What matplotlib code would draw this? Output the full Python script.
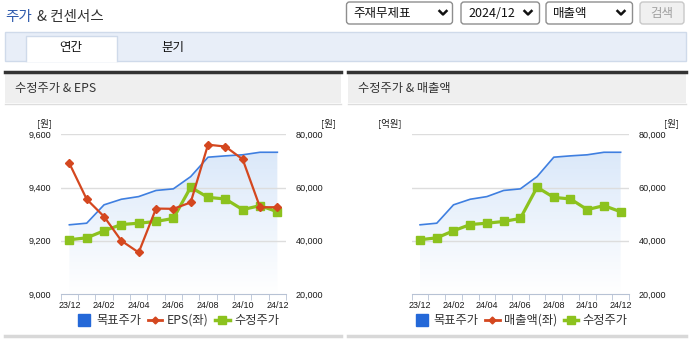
import numpy as np
import matplotlib
matplotlib.use('Agg')
import matplotlib.pyplot as plt
from matplotlib.patches import Rectangle, FancyBboxPatch
from matplotlib.lines import Line2D

plt.rcParams['font.family'] = ['Liberation Sans', 'Noto Sans CJK KR']
KR = ['Noto Sans CJK KR', 'DejaVu Sans']

# 데이터
months = ['23/12', '24/01', '24/02', '24/03', '24/04', '24/05', '24/06',
          '24/07', '24/08', '24/09', '24/10', '24/11', '24/12']
tick_months = ['23/12', '24/02', '24/04', '24/06', '24/08', '24/10', '24/12']
target_price = [46000, 46600, 53500, 55600, 56600, 58900, 59500,
                64100, 71400, 71900, 72300, 73250, 73250]
adj_price = [40400, 41100, 43750, 46100, 46600, 47250, 48400,
             60100, 56300, 55700, 51700, 53200, 50900]
eps = [9491, 9356, 9291, 9200, 9156, 9321, 9320,
       9344, 9561, 9554, 9506, 9326, 9326]
sales = []  # 매출액 데이터 없음

price_ticks = [20000, 40000, 60000, 80000]
eps_ticks = [9000, 9200, 9400, 9600]

W, H = 691, 342
fig = plt.figure(figsize=(W / 100, H / 100), dpi=100)

# 화면 틀 (픽셀 좌표)
bg = fig.add_axes([0, 0, 1, 1])
bg.set_xlim(0, W)
bg.set_ylim(H, 0)
bg.axis('off')

bg.text(5, 17, '주가', color='#2E5AAC', fontsize=10.5, va='center', family=KR)
bg.text(37, 17, '& 컨센서스', color='#333333', fontsize=10.5, va='center', family=KR)

# 드롭다운
for bx, bw, label, chev in [(346.5, 106, '주재무제표', 443), (461, 78.5, '2024/12', 528),
                            (546, 86.5, '매출액', 621)]:
    bg.add_patch(FancyBboxPatch((bx, 2), bw, 22, boxstyle='round,pad=0,rounding_size=3',
                                fc='white', ec='#8E8E8E', lw=1))
    bg.text(bx + 7, 13.5, label, fontsize=9, va='center', color='#111111', family=KR)
    bg.plot([chev - 3.5, chev, chev + 3.5], [11, 14.5, 11], color='#111111', lw=1.8)
bg.add_patch(FancyBboxPatch((640, 2), 44, 22, boxstyle='round,pad=0,rounding_size=3',
                            fc='#F0F0F0', ec='#C8C8C8', lw=1))
bg.text(662, 13.5, '검색', fontsize=9, va='center', ha='center', color='#A0A0A0', family=KR)

# 탭
bg.add_patch(Rectangle((5, 31.5), 681, 29, fc='#E8EEF8', ec='#CFDAEA', lw=1))
bg.add_patch(Rectangle((25.7, 36), 91, 25.5, fc='white', ec='none'))
bg.plot([25.7, 25.7, 116.7, 116.7], [61, 36, 36, 61], color='#CFDAEA', lw=1)
bg.text(71, 48, '연간', fontsize=9, ha='center', va='center', color='#111111', family=KR)
bg.text(173, 48, '분기', fontsize=9, ha='center', va='center', color='#111111', family=KR)

# 패널 헤더
for px0, px1, title in [(5, 341, '수정주가 & EPS'), (348, 686, '수정주가 & 매출액')]:
    bg.add_patch(Rectangle((px0, 72), px1 - px0, 31, fc='#EFEFEF', ec='none'))
    bg.plot([px0, px1], [71.5, 71.5], color='#333333', lw=2.5)
    bg.plot([px0, px1], [103.5, 103.5], color='#DDDDDD', lw=1)
    bg.plot([px0, px1], [335.5, 335.5], color='#D8D8D8', lw=2.5)
    bg.text(px0 + 10.5, 88.5, title, fontsize=8.8, va='center', color='#333333', family=KR)


def px_axes(x0, y0, x1, y1):
    return fig.add_axes([x0 / W, 1 - y1 / H, (x1 - x0) / W, (y1 - y0) / H])


def draw_chart(x0, x1, left_values, left_name, left_unit, legend_cx):
    ax = px_axes(x0, 134.3, x1, 294)
    ax.patch.set_alpha(0)
    ax2 = ax.twinx()
    x = np.arange(len(months))

    # 목표주가 그라데이션 영역
    grad = np.linspace(0, 1, 256).reshape(-1, 1)
    top = np.array([0.84, 0.90, 0.975])
    img = np.ones((256, 1, 3)) * (1 - grad[..., None]) + top * grad[..., None]
    im = ax.imshow(img, extent=[-0.5, len(months) - 0.5, 20000, 80000],
                   aspect='auto', origin='lower', zorder=1, interpolation='bilinear')
    poly = ax.fill_between(x, target_price, 20000, facecolor='none', edgecolor='none')
    im.set_clip_path(poly.get_paths()[0], transform=ax.transData)

    for v in price_ticks[1:]:
        ax.axhline(v, color='#DDDDDD', lw=1, zorder=1.5)

    ax.plot(x, target_price, color='#3F7FE0', lw=1.2, zorder=3)
    ax.plot(x, adj_price, color='#8CC21E', lw=2.3, marker='s', ms=6, zorder=4)

    ax.set_xlim(-0.5, len(months) - 0.5)
    ax.set_ylim(20000, 80000)
    for s in ['top', 'left', 'right']:
        ax.spines[s].set_visible(False)
    ax.spines['bottom'].set_color('#B7C2D4')
    ax.set_xticks([months.index(m) for m in tick_months], tick_months)
    ax.set_xticks(np.arange(-0.5, len(months), 1), minor=True)
    ax.tick_params(axis='x', which='major', length=0, pad=5, labelsize=6.5, labelcolor='#1A1A1A')
    ax.tick_params(axis='x', which='minor', length=4, color='#B7C2D4')
    ax.yaxis.tick_right()
    ax.set_yticks(price_ticks, [f'{v:,}' for v in price_ticks])
    ax.tick_params(axis='y', length=0, pad=7, labelsize=6.5, labelcolor='#1A1A1A')

    ax2.yaxis.tick_left()
    ax2.set_ylim(9000, 9600)
    for s in ax2.spines.values():
        s.set_visible(False)
    if left_values:
        ax2.plot(x[:len(left_values)], left_values, color='#D4471F', lw=1.6,
                 marker='D', ms=4.5, zorder=5)
        ax2.set_yticks(eps_ticks, [f'{v:,}' for v in eps_ticks])
        ax2.tick_params(axis='y', length=0, pad=7, labelsize=6.5, labelcolor='#1A1A1A')
    else:
        ax2.set_yticks([])

    # 단위
    if left_values:
        fig.text((x0 - 8.5) / W, 1 - 123 / H, left_unit, ha='right', va='center',
                 fontsize=6.8, color='#1A1A1A', family=KR)
    else:
        fig.text((x0 - 33.5) / W, 1 - 123 / H, left_unit, ha='left', va='center',
                 fontsize=6.8, color='#1A1A1A', family=KR)
    fig.text((x1 + 35) / W, 1 - 123 / H, '[원]', ha='left', va='center',
             fontsize=6.8, color='#1A1A1A', family=KR)

    handles = [
        Line2D([], [], color='#2468D8', marker='s', ls='none', ms=8.5),
        Line2D([], [], color='#D4471F', marker='D', ms=3.5, lw=2),
        Line2D([], [], color='#8CC21E', marker='s', ms=5.5, lw=2.5),
    ]
    leg = fig.legend(handles, ['목표주가', left_name, '수정주가'], loc='center', ncol=3,
                     bbox_to_anchor=(legend_cx / W, 1 - 320.5 / H), frameon=False,
                     handlelength=1.2, handletextpad=0.35, columnspacing=0.55,
                     prop={'family': KR, 'size': 8.8})
    for t in leg.get_texts():
        t.set_color('#333333')


draw_chart(60.7, 286, eps, 'EPS(좌)', '[원]', 178)
draw_chart(411.7, 629, sales, '매출액(좌)', '[억원]', 521)

fig.savefig('out.png', dpi=100)
